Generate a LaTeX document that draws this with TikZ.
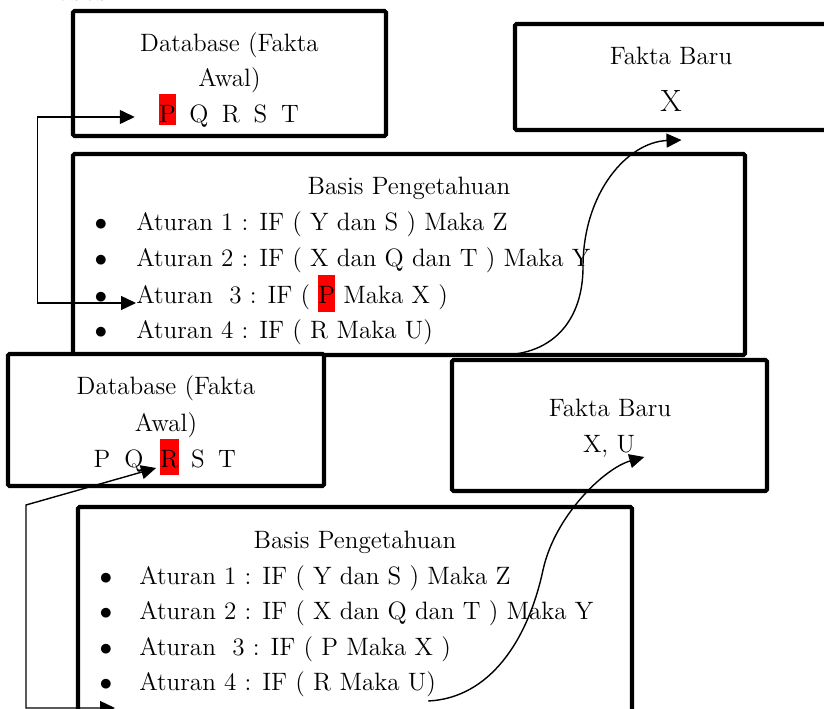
\documentclass[tikz,border=0pt]{standalone}
\usetikzlibrary{arrows.meta,fit,calc}

% red marker behind a single letter inside a line of text
\newcommand\redmark[1]{{\setlength\fboxsep{0pt}\colorbox{red}{\rule[-0.18cm]{0pt}{0.74cm}#1}}}

\tikzset{
  box/.style={draw, line width=2.3pt, inner sep=0pt, rounded corners=0.8pt},
  txt/.style={inner sep=0pt, font=\fontsize{14.3}{17}\selectfont},
  conn/.style={line width=0.8pt},
  tri/.tip={Triangle[length=0.3cm,width=0.28cm]},
  hlr/.style={txt, fill=red},
}

\begin{document}
\begin{tikzpicture}[x=0.02cm, y=-0.02cm]
  \useasboundingbox (0,0) rectangle (824,709);
  \fill[white] (0,0) rectangle (824,709);

  % heading, mostly above the page edge
  \node[anchor=base west, inner sep=0pt, font=\fontsize{15}{18}\selectfont\bfseries] (title) at (23,0.8) {Proses 2};

  % ---------- step 1 ----------
  \node[box, fit={(73,11) (386,136)}] (db1) {};
  \node[txt, anchor=base] (db1a) at (229.5,52) {Database (Fakta};
  \node[txt, anchor=base] (db1b) at (229.5,87) {Awal)};
  \node[hlr, anchor=base, text height=0.58cm, text depth=0.04cm] (db1p) at (167.5,123) {P};
  \node[txt, anchor=base] (db1q) at (199,123) {Q};
  \node[txt, anchor=base] (db1r) at (231,123) {R};
  \node[txt, anchor=base] (db1s) at (260.5,123) {S};
  \node[txt, anchor=base] (db1t) at (290,123) {T};

  \node[box, fit={(515,24) (840,130)}] (fb1) {};
  \node[txt, anchor=base] (fb1a) at (671,65) {Fakta Baru};
  \node[txt, anchor=base, font=\fontsize{17.5}{20}\selectfont] (fb1x) at (671,112) {X};

  \node[box, fit={(73,154) (745,355)}] (kb1) {};
  \node[txt, anchor=base] (kb1h) at (409,195) {Basis Pengetahuan};
  \foreach \yy/\nm in {231/1, 267/2, 303/3, 338/4}
    \node[txt, anchor=base] (kb1d\nm) at (101,\yy) {$\bullet$};
  \node[txt, anchor=base west] (kb1r1) at (136,231) {Aturan 1 : IF ( Y dan S ) Maka Z};
  \node[txt, anchor=base west] (kb1r2) at (136,267) {Aturan 2 : IF ( X dan Q dan T ) Maka Y};
  \node[txt, anchor=base west] (kb1r3) at (136,303) {Aturan\ \ 3 : IF ( \redmark{P} Maka X )};
  \node[txt, anchor=base west] (kb1r4) at (136,338) {Aturan 4 : IF ( R Maka U)};

  % ---------- step 2 ----------
  \node[box, fill=white, fit={(8,354) (324,486)}] (db2) {};
  \node[txt, anchor=base] (db2a) at (166,394) {Database (Fakta};
  \node[txt, anchor=base] (db2b) at (166,431) {Awal)};
  \node[txt, anchor=base] (db2p) at (102,467) {P};
  \node[txt, anchor=base] (db2q) at (134,467) {Q};
  \node[hlr, anchor=base, text height=0.56cm, text depth=0.16cm] (db2r) at (169.5,467) {R};
  \node[txt, anchor=base] (db2s) at (198,467) {S};
  \node[txt, anchor=base] (db2t) at (227,467) {T};

  \node[box, fit={(452,360) (767,491)}] (fb2) {};
  \node[txt, anchor=base] (fb2a) at (610,416) {Fakta Baru};
  \node[txt, anchor=base] (fb2x) at (609,452) {X, U};

  \node[box, fit={(78,507) (632,760)}] (kb2) {};
  \node[txt, anchor=base] (kb2h) at (355,548) {Basis Pengetahuan};
  \foreach \yy/\nm in {584/1, 619/2, 655/3, 690/4}
    \node[txt, anchor=base] (kb2d\nm) at (106,\yy) {$\bullet$};
  \node[txt, anchor=base west] (kb2r1) at (139,584) {Aturan 1 : IF ( Y dan S ) Maka Z};
  \node[txt, anchor=base west] (kb2r2) at (139,619) {Aturan 2 : IF ( X dan Q dan T ) Maka Y};
  \node[txt, anchor=base west] (kb2r3) at (139,655) {Aturan\ \ 3 : IF ( P Maka X )};
  \node[txt, anchor=base west] (kb2r4) at (139,690) {Aturan 4 : IF ( R Maka U)};

  % ---------- connectors ----------
  % fact P matched against rule 3
  \draw[conn, tri-tri] ($(db1p.base west)+(-24,-6)$) -- ++(-97,0) |- (kb1r3.base west);
  % rule 3 fires: new fact X
  \draw[conn, -tri] ($(kb1.south)+(91,-2)$)
    .. controls +(55,0) and (583,318) .. ($(kb1.south)+(174,-90)$)
    .. controls +(0,-75) and (628,142) .. ($(fb1.south)+(4,8)$);
  % fact R matched against rule 4
  \coordinate (kb2in) at (115,708);
  \coordinate (bend) at (26,505);
  \draw[conn, tri-tri] (kb2in) -| (bend) -- ($(db2r.base west)+(-4,1)$);
  % rule 4 fires: new fact U
  \draw[conn, -tri] ($(kb2r4.base east)+(-8,11)$)
    .. controls (490,698) and (528,640) .. (543,570)
    .. controls (555,515) and (605,468) .. ($(fb2x.base east)+(9,5)$);
\end{tikzpicture}
\end{document}
